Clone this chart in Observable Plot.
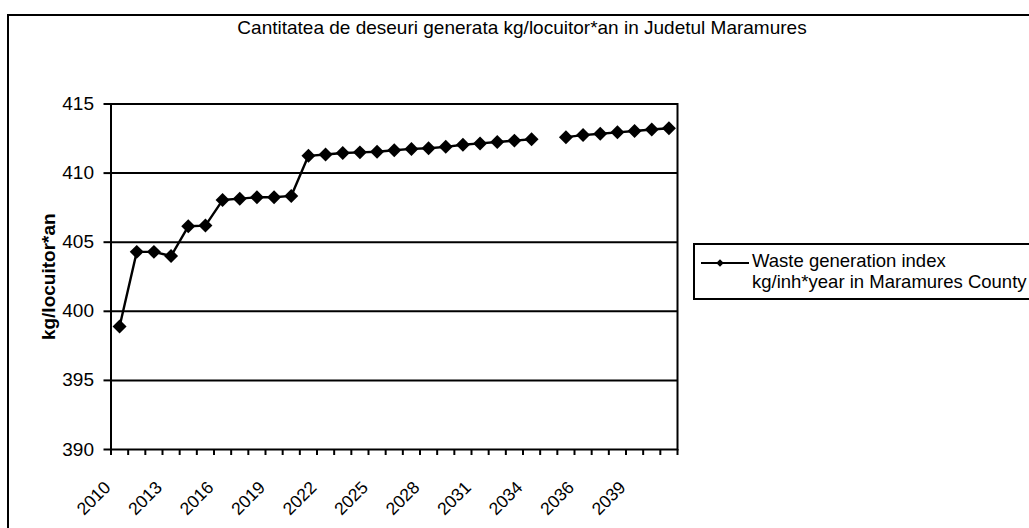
<!DOCTYPE html>
<html>
<head>
<meta charset="utf-8">
<script src="https://cdn.jsdelivr.net/npm/d3@7"></script>
<script src="https://cdn.jsdelivr.net/npm/@observablehq/plot@0.6"></script>
<style>
  html, body { margin: 0; padding: 0; background: #fff; overflow: hidden; }
  #wrap { position: relative; width: 1029px; height: 528px; overflow: hidden; font-family: "Liberation Sans", Arial, sans-serif; }
  #chart { position: absolute; left: 0; top: 0; }
  #outer { position: absolute; left: 7px; top: 14px; width: 1100px; height: 600px; border: 2px solid #000; box-sizing: border-box; }
  #title { position: absolute; top: 17px; left: 0; width: 1044px; text-align: center; font-size: 19px; color: #000; }
  #legend { position: absolute; left: 693px; top: 243px; width: 400px; height: 57px; border: 2px solid #000; box-sizing: border-box; background: #fff; }
  #legend svg { position: absolute; left: 4px; top: 8px; }
  #legend .txt { position: absolute; left: 57px; top: 5px; font-size: 18.5px; line-height: 21px; color: #000; white-space: nowrap; }
</style>
</head>
<body>
<div id="wrap">
  <div id="outer"></div>
  <div id="chart"></div>
  <div id="title"></div>
  <div id="legend"></div>
</div>
<script>
// ---- data ----
const years = ["2010","2011","2012","2013","2014","2015","2016","2017","2018","2019",
               "2020","2021","2022","2023","2024","2025","2026","2027","2028","2029",
               "2030","2031","2032","2033","2034","","2035","2036","2037","2038",
               "2039","2040","2041"];
const values = [398.9, 404.3, 404.3, 404.0, 406.15, 406.2, 408.05, 408.15, 408.25, 408.25,
                408.35, 411.25, 411.35, 411.45, 411.5, 411.55, 411.65, 411.75, 411.8, 411.9,
                412.05, 412.15, 412.25, 412.35, 412.45, null, 412.6, 412.75, 412.85, 412.95,
                413.05, 413.15, 413.25];
const yTicks = [390, 395, 400, 405, 410, 415];
const gridValues = [395, 400, 405, 410];
const labelEvery = 3;
const titleText = "Cantitatea de deseuri generata kg/locuitor*an in Judetul Maramures";
const yLabel = "kg/locuitor*an";
const legendLines = ["Waste generation index", "kg/inh*year in Maramures County"];

const data = years.map((yr, i) => ({i, year: yr, v: values[i]}));
const labelIdx = d3.range(0, years.length, labelEvery);

const chart = Plot.plot({
  width: 1029,
  height: 528,
  marginLeft: 110.5,
  marginRight: 352,
  marginTop: 103.5,
  marginBottom: 79,
  style: {fontFamily: "'Liberation Sans', Arial, sans-serif", color: "#000", background: "transparent"},
  x: {type: "linear", domain: [0, years.length], axis: null},
  y: {domain: [390, 415], axis: null},
  marks: [
    Plot.ruleY(gridValues, {stroke: "#000", strokeWidth: 2}),
    Plot.frame({stroke: "#000", strokeWidth: 2}),
    Plot.axisY({ticks: yTicks, tickSize: 7, tickPadding: 10, fontSize: 19, strokeWidth: 2, label: null}),
    Plot.axisX({ticks: d3.range(0, years.length + 1), tickSize: 6, strokeWidth: 2, tickFormat: () => "", label: null}),
    Plot.text(labelIdx, {x: i => i + 0.5, text: i => years[i], frameAnchor: "bottom", textAnchor: "end",
                rotate: -45, fontSize: 17.5, dy: 39, dx: -8, fill: "#000"}),
    Plot.text([yLabel], {frameAnchor: "left", textAnchor: "middle", dx: -62, rotate: -90, fontWeight: "bold", fontSize: 19, fill: "#000"}),
    Plot.line(data, {x: d => d.i + 0.5, y: "v", stroke: "#000", strokeWidth: 2.4}),
    Plot.dot(data.filter(d => d.v != null), {x: d => d.i + 0.5, y: "v", symbol: "diamond2", r: 6.3, fill: "#000", stroke: "none"})
  ]
});
document.getElementById("chart").appendChild(chart);
document.getElementById("title").textContent = titleText;

// legend
const leg = document.getElementById("legend");
const ns = "http://www.w3.org/2000/svg";
const sv = document.createElementNS(ns, "svg");
sv.setAttribute("width", 52); sv.setAttribute("height", 20);
const ln = document.createElementNS(ns, "line");
ln.setAttribute("x1", 2); ln.setAttribute("x2", 50); ln.setAttribute("y1", 10); ln.setAttribute("y2", 10);
ln.setAttribute("stroke", "#000"); ln.setAttribute("stroke-width", 1.8);
sv.appendChild(ln);
const dm = document.createElementNS(ns, "path");
dm.setAttribute("d", d3.symbol(d3.symbolDiamond2, 36)());
dm.setAttribute("transform", "translate(21,10)");
dm.setAttribute("fill", "#000");
sv.appendChild(dm);
leg.appendChild(sv);
const tx = document.createElement("div");
tx.className = "txt";
tx.innerHTML = legendLines.map(s => `<div>${s}</div>`).join("");
leg.appendChild(tx);
</script>
</body>
</html>
